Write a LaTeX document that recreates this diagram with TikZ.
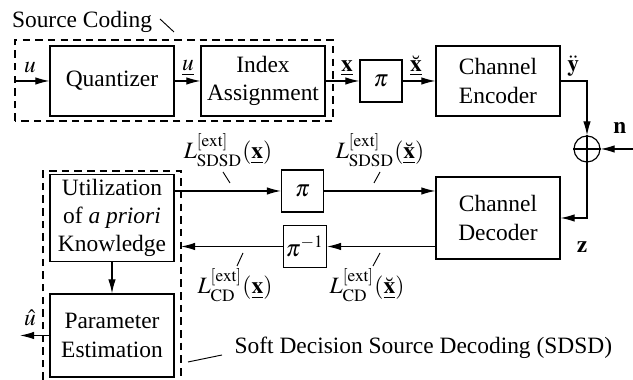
\documentclass[tikz,border=0pt]{standalone}
\usepackage{mathptmx}
\usepackage{fontspec}
\setmainfont{Liberation Serif}
\usepackage{tikz}
\usetikzlibrary{arrows.meta, positioning, calc}
\usepackage{amsmath}

\begin{document}
\begin{tikzpicture}[
  line width=0.5pt,
  blk/.style={draw, minimum width=1.86cm, minimum height=1.05cm, align=center, inner sep=2pt},
  pibox/.style={draw, minimum size=0.63cm, inner sep=1pt},
  sig/.style={-{Latex[length=6pt,width=3.2pt]}},
  grp/.style={draw, dash pattern=on 3.2pt off 2.2pt},
  tick/.style={line width=0.4pt}
]
  \useasboundingbox (0,0) rectangle (9.495,5.7);

  % transmitter
  \node[blk] (quant) at (1.68, 4.485) {Quantizer};
  \node[blk] (index) at (3.945, 4.485) {Index\\Assignment};
  \node[pibox] (pitx) at (5.715, 4.485) {$\pi$};
  \node[blk] (enc) at (7.47, 4.485) {Channel\\Encoder};
  \node[draw, circle, minimum size=0.39cm, inner sep=0pt] (add) at (8.805, 3.465) {};
  \draw (add.north) -- (add.south) (add.west) -- (add.east);

  % receiver
  \node[blk, minimum height=1.23cm] (dec) at (7.47, 2.43) {Channel\\Decoder};
  \node[pibox] (pirx) at (4.5375, 2.835) {$\pi$};
  \node[pibox] (piinv) at (4.575, 2.0025) {$\pi^{-1}$};
  \node[blk, minimum height=1.23cm] (util) at (1.68, 2.43) {Utilization\\of \textit{a priori}\\Knowledge};
  \node[blk, minimum height=1.245cm] (est) at (1.68, 0.6675) {Parameter\\Estimation};

  % groups
  \draw[grp] (0.225, 3.885) rectangle (4.995, 5.1);
  \draw[grp] (0.645, 0) -- (0.645, 3.135) -- (2.715, 3.135) -- (2.715, 0);
  \node (srclbl) at (1.23, 5.37) {Source Coding};
  \draw[tick] (2.4, 5.415) -- (2.61, 5.22);
  \node (sdsdlbl) at (6.35, 0.48) {Soft Decision Source Decoding (SDSD)};
  \draw[tick] (2.82, 0.27) -- (3.33, 0.375);

  % forward path
  \coordinate (uin) at (0.24, 4.485);
  \coordinate (nin) at (9.495, 3.465);
  \coordinate (uout) at (0.3, 0.6675);
  \draw[sig] (uin) -- (quant);
  \draw[sig] (quant) -- (index);
  \draw[sig] (index) -- (pitx);
  \draw[sig] (pitx) -- (enc);
  \draw[sig] (enc.east) -| (add.north);
  \draw[sig] (nin) -- (add.east);
  \draw[sig] (add.south) |- (dec.east);

  % iterative loop
  \draw[sig] (util.east |- pirx) -- (pirx);
  \draw[sig] (pirx) -- (dec.west |- pirx);
  \draw[sig] (dec.west |- piinv) -- (piinv);
  \draw[sig] (piinv) -- (2.715, 2.0025);
  \draw[sig] (util) -- (est);
  \draw[sig] (est) -- (uout);

  % signal labels
  \node (lu) at (0.45, 4.68) {$u$};
  \node (lubar) at (2.82, 4.68) {$\underline{u}$};
  \node (lx) at (5.205, 4.68) {$\underline{\mathbf{x}}$};
  \node (lxb) at (6.24, 4.71) {$\underline{\breve{\mathbf{x}}}$};
  \node (ly) at (8.6, 4.71) {$\ddot{\mathbf{y}}$};
  \node (ln) at (9.3, 3.78) {$\mathbf{n}$};
  \node (lz) at (8.73, 1.995) {$\mathbf{z}$};
  \node (luhat) at (0.45, 0.93) {$\hat{u}$};

  \node[inner sep=1pt] (lsx) at (3.42, 3.45) {$L^{[\mathrm{ext}]}_{\mathrm{SDSD}}(\underline{\mathbf{x}})$};
  \draw[tick] (3.345, 3.12) -- (3.45, 2.955);
  \node[inner sep=1pt] (lsxb) at (5.7, 3.45) {$L^{[\mathrm{ext}]}_{\mathrm{SDSD}}(\underline{\breve{\mathbf{x}}})$};
  \draw[tick] (5.7, 3.12) -- (5.61, 2.955);
  \node[inner sep=1pt] (lcx) at (3.525, 1.425) {$L^{[\mathrm{ext}]}_{\mathrm{CD}}(\underline{\mathbf{x}})$};
  \draw[tick] (3.645, 1.905) -- (3.555, 1.71);
  \node[inner sep=1pt] (lcxb) at (5.505, 1.425) {$L^{[\mathrm{ext}]}_{\mathrm{CD}}(\underline{\breve{\mathbf{x}}})$};
  \draw[tick] (5.7, 1.905) -- (5.595, 1.71);
\end{tikzpicture}
\end{document}
